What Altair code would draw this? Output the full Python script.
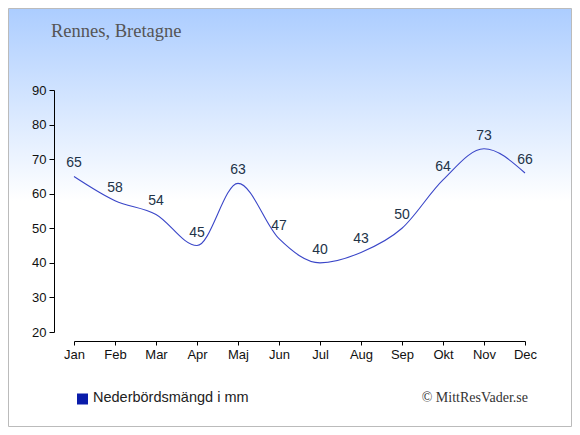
import altair as alt
import pandas as pd

months = ["Jan", "Feb", "Mar", "Apr", "Maj", "Jun", "Jul", "Aug", "Sep", "Okt", "Nov", "Dec"]
precip = [65, 58, 54, 45, 63, 47, 40, 43, 50, 64, 73, 66]
y_ticks = [20, 30, 40, 50, 60, 70, 80, 90]
title_text = "Rennes, Bretagne"
legend_text = "Nederbördsmängd i mm"
credit_text = "© MittResVader.se"

df = pd.DataFrame({"month": months, "value": precip})

W, H = 451, 242
PL, PT, PR, PB = 66, 82, 47, 95

one = alt.Data(values=[{}])

bg = alt.Chart(one).mark_rect(
    fill=alt.Gradient(
        gradient="linear", x1=0, x2=0, y1=0, y2=1,
        stops=[alt.GradientStop(offset=0, color="#accdff"),
               alt.GradientStop(offset=0.46, color="#ffffff"),
               alt.GradientStop(offset=1, color="#ffffff")]),
    stroke="#bbbbbb", strokeWidth=1
).encode(x=alt.value(-PL + 0.5), x2=alt.value(W + PR - 0.5),
         y=alt.value(-PT + 0.5), y2=alt.value(H + PB - 0.5))

x_enc = alt.X("month:N", sort=months,
              scale=alt.Scale(type="point", padding=0),
              axis=alt.Axis(title=None, labelAngle=0, offset=9, tickSize=4,
                            labelPadding=3, domainColor="#000", tickColor="#000",
                            labelColor="#111", labelFont="Liberation Sans",
                            labelFontSize=13, grid=False, zindex=1))
y_enc = alt.Y("value:Q", scale=alt.Scale(domain=[20, 90], nice=False, zero=False),
              axis=alt.Axis(title=None, values=y_ticks, offset=20, tickSize=5,
                            labelPadding=3, domainColor="#000", tickColor="#000",
                            labelColor="#111", labelFont="Liberation Sans",
                            labelFontSize=13, grid=False, zindex=1,
                            labelOverlap=False))

line = alt.Chart(df).mark_line(
    interpolate="monotone", color="#3a46c8", strokeWidth=1.1
).encode(x=x_enc, y=y_enc)

labels = alt.Chart(df).mark_text(
    dy=-9, baseline="alphabetic", font="Liberation Sans", fontSize=14, color="#223348"
).encode(x=x_enc, y=y_enc, text="value:Q")

title = alt.Chart(one).mark_text(
    text=title_text, font="Liberation Serif", fontSize=18.5, color="#555555",
    align="left", baseline="alphabetic"
).encode(x=alt.value(-23), y=alt.value(-53))

legend_sq = alt.Chart(one).mark_point(
    shape="square", filled=True, size=121, color="#0a1caa", opacity=1
).encode(x=alt.value(8.5), y=alt.value(309))

legend_txt = alt.Chart(one).mark_text(
    text=legend_text, font="Liberation Sans", fontSize=14.5, color="#222222",
    align="left", baseline="middle"
).encode(x=alt.value(19), y=alt.value(308))

credit = alt.Chart(one).mark_text(
    text=credit_text, font="Liberation Serif", fontSize=14, color="#333333",
    align="right", baseline="middle"
).encode(x=alt.value(454), y=alt.value(308))

chart = alt.layer(bg, line, labels, title, legend_sq, legend_txt, credit).properties(
    width=W, height=H, autosize="none",
    padding={"left": PL, "top": PT, "right": PR, "bottom": PB},
    background="white"
).configure_view(stroke=None)

chart.save("out.html", embed_options={"renderer": "svg", "actions": False})
